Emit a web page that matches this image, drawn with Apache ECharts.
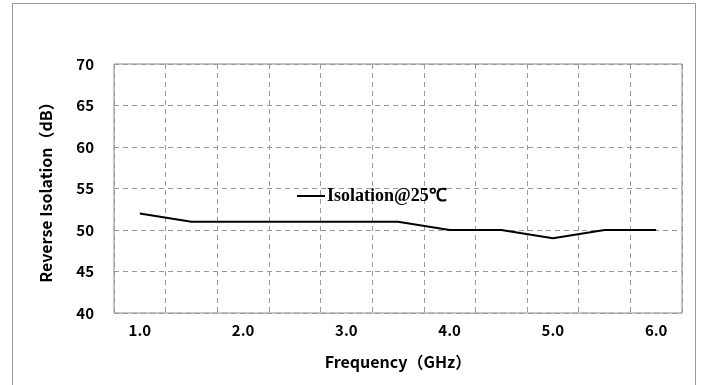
<!DOCTYPE html>
<html>
<head>
<meta charset="utf-8">
<script src="https://cdn.jsdelivr.net/npm/echarts@6/dist/echarts.min.js"></script>
<style>
  html, body { margin: 0; padding: 0; background: #fff; }
  #chart { width: 702px; height: 385px; }
</style>
</head>
<body>
<div id="chart"></div>
<script>
const frequencies = ["1.0", "1.5", "2.0", "2.5", "3.0", "3.5", "4.0", "4.5", "5.0", "5.5", "6.0"];
const isolation25 = [52, 51, 51, 51, 51, 51, 50, 50, 49, 50, 50];
const seriesName = "Isolation@25℃";

const labelFont = "'Noto Sans CJK SC', 'Noto Sans', sans-serif";

const chart = echarts.init(document.getElementById("chart"));
chart.setOption({
  backgroundColor: "#fff",
  animation: false,
  graphic: [
    {
      type: "rect",
      shape: { x: 12.5, y: 3.5, width: 683, height: 420 },
      style: { fill: "none", stroke: "#999", lineWidth: 1 },
      silent: true,
    },
  ],
  legend: {
    data: [seriesName],
    left: 297,
    top: 187,
    padding: 0,
    itemWidth: 28,
    itemHeight: 14,
    itemGap: 2,
    icon: "path://M0,6 L28,6 L28,8 L0,8 Z",
    textStyle: {
      fontFamily: "'Liberation Serif', serif",
      fontWeight: "bold",
      fontSize: 18,
      color: "#000",
      padding: [0, 0, 0, -3],
    },
  },
  grid: {
    left: 114,
    right: 20,
    top: 64,
    bottom: 72,
    show: true,
    borderColor: "#888",
    borderWidth: 1,
    containLabel: false,
  },
  xAxis: {
    type: "category",
    data: frequencies,
    boundaryGap: true,
    name: "Frequency（GHz）",
    nameLocation: "middle",
    nameGap: 41,
    nameTextStyle: { fontFamily: labelFont, fontWeight: "bold", fontSize: 16, color: "#000" },
    axisLine: { show: false },
    axisTick: { show: false },
    axisLabel: {
      interval: 1,
      margin: 10,
      fontFamily: labelFont,
      fontWeight: "bold",
      fontSize: 15,
      color: "#000",
    },
    splitLine: {
      show: true,
      interval: 0,
      lineStyle: { color: "#999", type: [5, 4], width: 1 },
    },
  },
  yAxis: {
    type: "value",
    min: 40,
    max: 70,
    interval: 5,
    name: "Reverse Isolation（dB）",
    nameLocation: "middle",
    nameGap: 60,
    nameTextStyle: { fontFamily: labelFont, fontWeight: "bold", fontSize: 16, color: "#000" },
    axisLine: { show: false },
    axisTick: { show: false },
    axisLabel: {
      margin: 20,
      fontFamily: labelFont,
      fontWeight: "bold",
      fontSize: 15,
      color: "#000",
    },
    splitLine: {
      show: true,
      lineStyle: { color: "#999", type: [5, 4], width: 1 },
    },
  },
  series: [
    {
      name: seriesName,
      type: "line",
      data: isolation25,
      symbol: "none",
      lineStyle: { color: "#000", width: 2 },
      itemStyle: { color: "#000" },
    },
  ],
});
</script>
</body>
</html>
